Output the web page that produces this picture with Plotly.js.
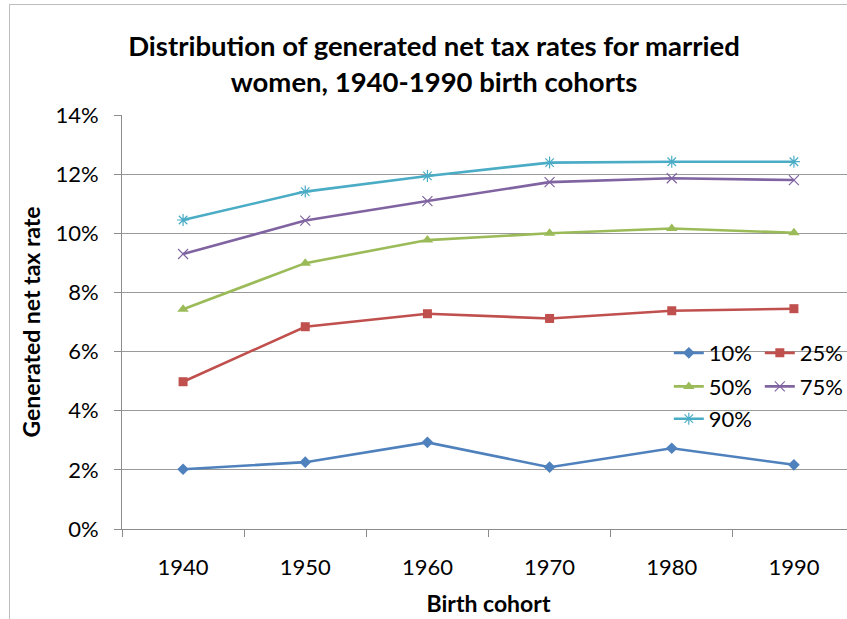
<!DOCTYPE html>
<html>
<head>
<meta charset="utf-8">
<script src="https://cdn.plot.ly/plotly-3.0.1.min.js"></script>
<style>
  html, body { margin: 0; padding: 0; width: 847px; height: 619px; overflow: hidden; background: #fff; }
  #frame { position: absolute; left: 9px; top: 4px; width: 860px; height: 640px; border: 1px solid #bdbdbd; }
  #chart { width: 860px; height: 640px; }
</style>
</head>
<body>
<div id="frame"><div id="chart"></div></div>
<script>
const cohorts = ['1940', '1950', '1960', '1970', '1980', '1990'];
const p10 = [2.02, 2.26, 2.93, 2.09, 2.73, 2.17];
const p25 = [4.98, 6.84, 7.28, 7.12, 7.38, 7.45];
const p50 = [7.43, 8.99, 9.77, 10.00, 10.16, 10.02];
const p75 = [9.30, 10.43, 11.09, 11.73, 11.86, 11.80];
const p90 = [10.45, 11.41, 11.94, 12.39, 12.42, 12.42];
const seriesNames = ['10%', '25%', '50%', '75%', '90%'];
const yTicks = [0, 2, 4, 6, 8, 10, 12, 14];

const colors = ['#4F81BD', '#C0504D', '#9BBB59', '#8064A2', '#4BACC6'];
const symbols = ['diamond', 'square', 'triangle-up', 'x-thin-open', 'asterisk-open'];
const sizes = [9, 9, 10, 10, 10];
const legendIds = ['legend', 'legend', 'legend2', 'legend2', 'legend3'];
const values = [p10, p25, p50, p75, p90];

const traces = values.map((v, i) => ({
  x: cohorts,
  y: v,
  name: seriesNames[i],
  type: 'scatter',
  mode: 'lines+markers',
  legend: legendIds[i],
  line: { color: colors[i], width: 2.6 },
  marker: {
    symbol: symbols[i], size: sizes[i], color: colors[i],
    line: { color: colors[i], width: (i >= 3 ? 1.2 : 0) }
  }
}));

const legendBase = (y) => ({
  orientation: 'h', x: 0.746, xanchor: 'left', y: y, yanchor: 'middle',
  bgcolor: 'rgba(0,0,0,0)', borderwidth: 0, entrywidth: 46,
  font: { family: 'Lato, sans-serif', size: 22, color: '#000' }
});

const layout = {
  width: 860, height: 640,
  margin: { l: 112, r: 15, t: 110, b: 116 },
  paper_bgcolor: '#fff', plot_bgcolor: '#fff',
  title: {
    text: 'Distribution of generated net tax rates for married<br>women, 1940-1990 birth cohorts',
    font: { family: 'Lato, sans-serif', size: 27.5, color: '#000', weight: 'bold' },
    x: 0.493, xanchor: 'center', xref: 'container',
    y: 0.92, yanchor: 'top', yref: 'container'
  },
  xaxis: {
    type: 'category',
    range: [-0.5, 5.5],
    tickson: 'boundaries',
    ticks: 'outside', ticklen: 7, tickcolor: '#8c8c8c', tickwidth: 1,
    showline: true, linecolor: '#8c8c8c', linewidth: 1,
    showgrid: false, zeroline: false,
    ticklabelstandoff: 19,
    tickfont: { family: 'Lato, sans-serif', size: 22, color: '#000' },
    title: { text: 'Birth cohort', standoff: 16,
      font: { family: 'Lato, sans-serif', size: 23, color: '#000', weight: 'bold' } }
  },
  yaxis: {
    range: [0, 14],
    tickvals: yTicks,
    ticktext: yTicks.map(t => t + '%'),
    ticks: 'outside', ticklen: 7, tickcolor: '#8c8c8c', tickwidth: 1,
    showline: true, linecolor: '#8c8c8c', linewidth: 1,
    showgrid: true, gridcolor: '#9a9a9a', gridwidth: 1,
    zeroline: false,
    ticklabelstandoff: 11,
    tickfont: { family: 'Lato, sans-serif', size: 22, color: '#000' },
    title: { text: 'Generated net tax rate', standoff: 8,
      font: { family: 'Lato, sans-serif', size: 23, color: '#000', weight: 'bold' } }
  },
  legend: legendBase(0.425),
  legend2: legendBase(0.344),
  legend3: legendBase(0.266),
  showlegend: true
};

Plotly.newPlot('chart', traces, layout, { displayModeBar: false, staticPlot: true });
</script>
</body>
</html>
